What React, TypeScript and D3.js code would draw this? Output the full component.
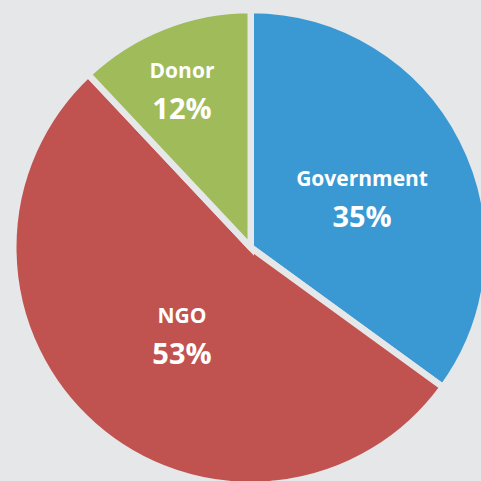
import React from "react";
import * as d3 from "d3";

const categories = ["Government", "NGO", "Donor"];
const values = [35, 53, 12];
const colors = ["#3a99d3", "#c0534f", "#9fbb5a"];
// label placement style: radius (px) and angular nudge (deg) per slice
const labelRadius = [121, 113, 170];
const labelNudge = [3.9, -3.9, -2.25];

const W = 481;
const H = 481;
const cx = 250.75;
const cy = 247.5;
const R = 237.5;
const bg = "#e6e7e9";

export default function App() {
  const pie = d3
    .pie<number>()
    .sort(null)
    .value((d) => d)(values);
  const arc = d3.arc<d3.PieArcDatum<number>>().innerRadius(0).outerRadius(R);
  const total = d3.sum(values);

  return (
    <svg
      width={W}
      height={H}
      style={{ position: "absolute", left: 0, top: 0, display: "block" }}
    >
      <rect width={W} height={H} fill={bg} />
      <g transform={`translate(${cx},${cy})`}>
        {pie.map((p, i) => (
          <path
            key={categories[i]}
            d={arc(p) || ""}
            fill={colors[i]}
            stroke={bg}
            strokeWidth={6.5}
            strokeLinejoin="miter"
          />
        ))}
        {pie.map((p, i) => {
          const mid = (p.startAngle + p.endAngle) / 2 + (labelNudge[i] * Math.PI) / 180;
          const x = Math.sin(mid) * labelRadius[i];
          const y = -Math.cos(mid) * labelRadius[i];
          const pct = Math.round((values[i] / total) * 100);
          return (
            <g
              key={"l" + categories[i]}
              transform={`translate(${x},${y})`}
              fill="#ffffff"
              fontFamily="'Open Sans', sans-serif"
              fontWeight="bold"
              textAnchor="middle"
            >
              <text y={-14} fontSize={21}>
                {categories[i]}
              </text>
              <text y={27} fontSize={29}>
                {pct}%
              </text>
            </g>
          );
        })}
      </g>
    </svg>
  );
}
